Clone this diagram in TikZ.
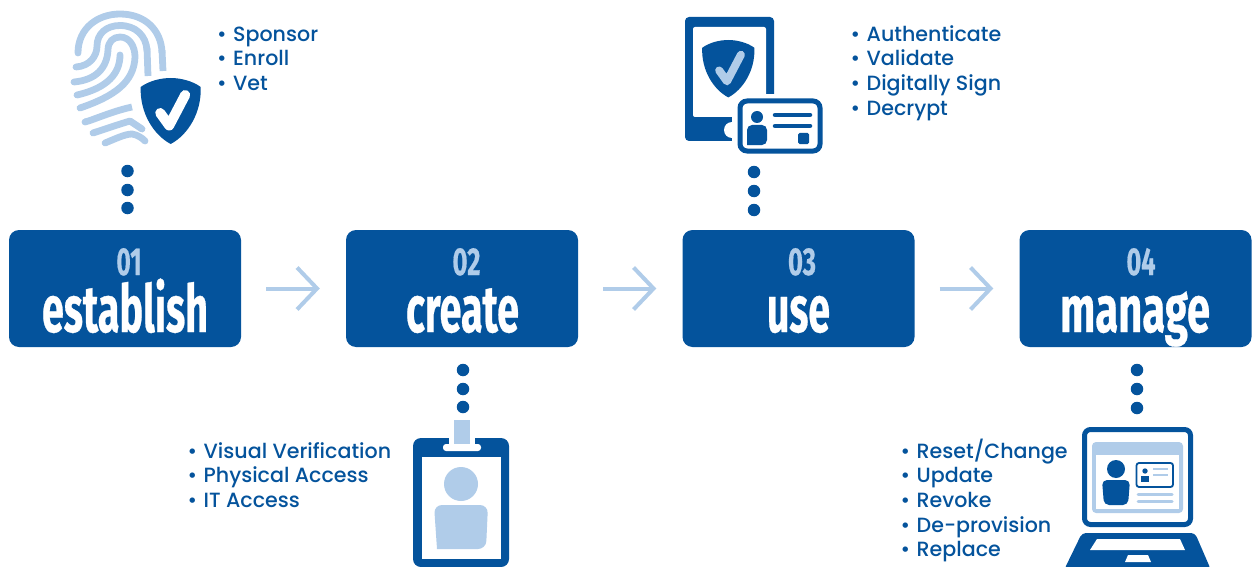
\documentclass[tikz,border=0pt]{standalone}
\usepackage{fontspec}
\usepackage{graphicx}
\usetikzlibrary{arrows.meta}
\setmainfont{Poppins Medium}
\newfontfamily\headfont{Fira Sans Bold}[FakeBold=0.6]
\definecolor{dark}{HTML}{04539C}
\definecolor{light}{HTML}{B0CCE9}
\setlength{\lineskiplimit}{-100pt}
\newcommand{\li}[1]{\rule{0pt}{20.6pt}\makebox[16pt][l]{\textbullet}#1}
\tikzset{
  x=1pt,y=-1pt,
  stepbox/.style={draw=none,fill=dark,rounded corners=10pt,minimum width=232pt,minimum height=117pt,inner sep=0pt},
  flow/.style={draw=light,line width=4pt,shorten >=26pt,shorten <=25pt,-{Straight Barb[length=20pt,width=42pt,line width=4pt]}},
  dotn/.style={circle,fill=dark,minimum size=12.5pt,inner sep=0pt},
  numtext/.style={text=light,anchor=base,inner sep=0pt},
  titletext/.style={text=white,anchor=base,inner sep=0pt},
  listtext/.style={text=dark,anchor=north west,align=left,inner sep=0pt,font=\fontsize{20.6pt}{24.65pt}\selectfont},
  ridge/.style={draw=light,line width=6.8pt,line cap=round,line join=round,fill=none},
  ridgeb/.style={ridge,line cap=butt},
  pics/shield/.style n args={3}{code={
    \fill[#1] (0,0) .. controls (-10,0) and (-22,3) .. (-30,9)
      .. controls (-31,35) and (-17,57) .. (0,66)
      .. controls (17,57) and (31,35) .. (30,9)
      .. controls (22,3) and (10,0) .. (0,0) -- cycle;
    \draw[#2,line width=#3,line cap=round,line join=round] (-10.5,35) -- (-1.5,47.5) -- (14.5,17);
  }},
}
\begin{document}
\begin{tikzpicture}
\useasboundingbox (0,0) rectangle (1255,567);
% step boxes
\node[stepbox] (b1) at (125,288.5) {};
\node[stepbox] (b2) at (462,288.5) {};
\node[stepbox] (b3) at (798.5,288.5) {};
\node[stepbox] (b4) at (1135.5,288.5) {};
% arrows
\draw[flow] (b1) -- (b2);
\draw[flow] (b2) -- (b3);
\draw[flow] (b3) -- (b4);
% numbers and titles
\node[numtext] (n1) at (129,275) {\resizebox{25pt}{\height}{\headfont\fontsize{39pt}{39pt}\selectfont 01}};
\node[numtext] (n2) at (466.5,275) {\resizebox{28pt}{\height}{\headfont\fontsize{39pt}{39pt}\selectfont 02}};
\node[numtext] (n3) at (802,275) {\resizebox{28pt}{\height}{\headfont\fontsize{39pt}{39pt}\selectfont 03}};
\node[numtext] (n4) at (1141,275) {\resizebox{29pt}{\height}{\headfont\fontsize{39pt}{39pt}\selectfont 04}};
\node[titletext] (t1) at (125,332) {\resizebox{166pt}{\height}{\headfont\fontsize{66pt}{66pt}\selectfont establish}};
\node[titletext] (t2) at (462.5,332) {\resizebox{113pt}{\height}{\headfont\fontsize{66pt}{66pt}\selectfont create}};
\node[titletext] (t3) at (798.5,332) {\resizebox{63pt}{\height}{\headfont\fontsize{66pt}{66pt}\selectfont use}};
\node[titletext] (t4) at (1135,332) {\resizebox{150pt}{\height}{\headfont\fontsize{66pt}{66pt}\selectfont manage}};
% dots
\foreach \i/\xx/\ya/\yb/\yc in {1/127.5/171/190/208, 2/463/370/389/407, 3/754/172/191/210, 4/1137/370/389/408}{
  \node[dotn] (d\i a) at (\xx,\ya) {};
  \node[dotn] (d\i b) at (\xx,\yb) {};
  \node[dotn] (d\i c) at (\xx,\yc) {};
}
% lists
\node[listtext] (l1) at (217,20.4) {\li{Sponsor}\\\li{Enroll}\\\li{Vet}};
\node[listtext] (l2) at (187.5,437.4) {\li{Visual Verification}\\\li{Physical Access}\\\li{IT Access}};
\node[listtext] (l3) at (850.5,20.4) {\li{Authenticate}\\\li{Validate}\\\li{Digitally Sign}\\\li{Decrypt}};
\node[listtext] (l4) at (900.5,437.4) {\li{Reset/Change}\\\li{Update}\\\li{Revoke}\\\li{De-provision}\\\li{Replace}};
% fingerprint
\draw[ridge] (78,53) .. controls (78,28) and (98,14) .. (120,14) .. controls (145,14) and (161,30) .. (162,52);
\draw[ridgeb] (162,50) -- (163,71);
\draw[ridge] (76,67) .. controls (90,66) and (97,56) .. (97,46) .. controls (97,34) and (106,25.5) .. (120,25.5) .. controls (136,25.5) and (146,36) .. (147,50);
\draw[ridgeb] (147,48) -- (148,76);
\draw[ridge] (74,82) .. controls (96,80) and (107,68) .. (108,50) .. controls (108,42) and (113,37) .. (120,37) .. controls (130,37) and (135,47) .. (135,57) .. controls (134,82) and (115,96) .. (80,108);
\draw[ridge] (120,55) .. controls (120,73) and (108,88) .. (77,95);
\draw[ridge,line cap=butt] (85,122) -- (90,120.5) .. controls (105,115) and (118,110) .. (132,107);
\fill[light] (85,122) circle (3.4pt);
\draw[ridge] (93,133) .. controls (108,128) and (120,124) .. (130,121) -- (142,129);
\draw[ridge] (105,143) .. controls (115,139) and (125,134) .. (132,134) .. controls (138,135) and (142,138) .. (145,141);
\pic at (170.7,78) {shield={dark}{white}{10pt}};
% phone
\fill[dark,rounded corners=4pt] (685,17) rectangle (774,141);
\fill[white,rounded corners=2pt] (693,27) rectangle (766,117);
\fill[white] (732,94) rectangle (830,160);
\fill[white] (732,130) circle (8pt);
\pic[scale=0.87] at (728.3,40) {shield={dark}{light}{8pt}};
\draw[dark,line width=5pt,fill=white,rounded corners=7pt] (740,101) rectangle (820,151);
\fill[dark] (757,117) circle (6pt);
\fill[dark,rounded corners=5pt] (747,145) -- (747,125) -- (767,125) -- (767,145) [sharp corners] -- cycle;
\draw[dark,line width=4.5pt,line cap=round] (775,115) -- (810,115);
\draw[dark,line width=4.5pt,line cap=round] (775,126) -- (810,126);
\fill[dark,rounded corners=1.5pt] (798,133) rectangle (809,144);
% badge
\fill[dark,rounded corners=8pt] (413,438) rectangle (509,567);
\fill[white] (449,437) rectangle (475,445);
\fill[light] (454,420) rectangle (470,444);
\fill[white,rounded corners=3pt] (443,444) rectangle (481,451);
\fill[white] (422,457) rectangle (501,559);
\fill[light] (461,484) circle (17pt);
\fill[light,rounded corners=8pt] (437,549) -- (434,505) -- (488,505) -- (486,549) [sharp corners] -- cycle;
% laptop
\draw[dark,line width=5pt,rounded corners=6pt,fill=white] (1084.5,429.5) rectangle (1190.5,524.5);
\fill[light,rounded corners=4pt] (1092,442) rectangle (1183,513);
\fill[white] (1096,455) rectangle (1179,509);
\fill[dark] (1116,469) circle (9pt);
\fill[dark,rounded corners=5pt] (1104,505) -- (1102,480) -- (1130,480) -- (1128,505) -- cycle;
\draw[dark,line width=1.8pt,rounded corners=2.5pt,fill=white] (1136.5,463) rectangle (1173,487);
\fill[dark] (1145,471) circle (2.7pt);
\fill[dark] (1141,482) -- (1141,476) -- (1149,476) -- (1149,482) -- cycle;
\draw[light,line width=2pt] (1153,469) -- (1168,469);
\draw[light,line width=2pt] (1153,474.5) -- (1168,474.5);
\draw[light,line width=3pt,line cap=round] (1138,494) -- (1172,494);
\draw[light,line width=3pt,line cap=round] (1138,501.5) -- (1172,501.5);
\fill[dark,rounded corners=4pt] (1082,533) -- (1195,533) -- (1211,570) -- (1064,570) -- cycle;
\fill[white] (1097,539) -- (1180,539) -- (1185,550) -- (1090,550) -- cycle;
\fill[white] (1128,555) -- (1148,555) -- (1151,562) -- (1125,562) -- cycle;
\end{tikzpicture}
\end{document}
